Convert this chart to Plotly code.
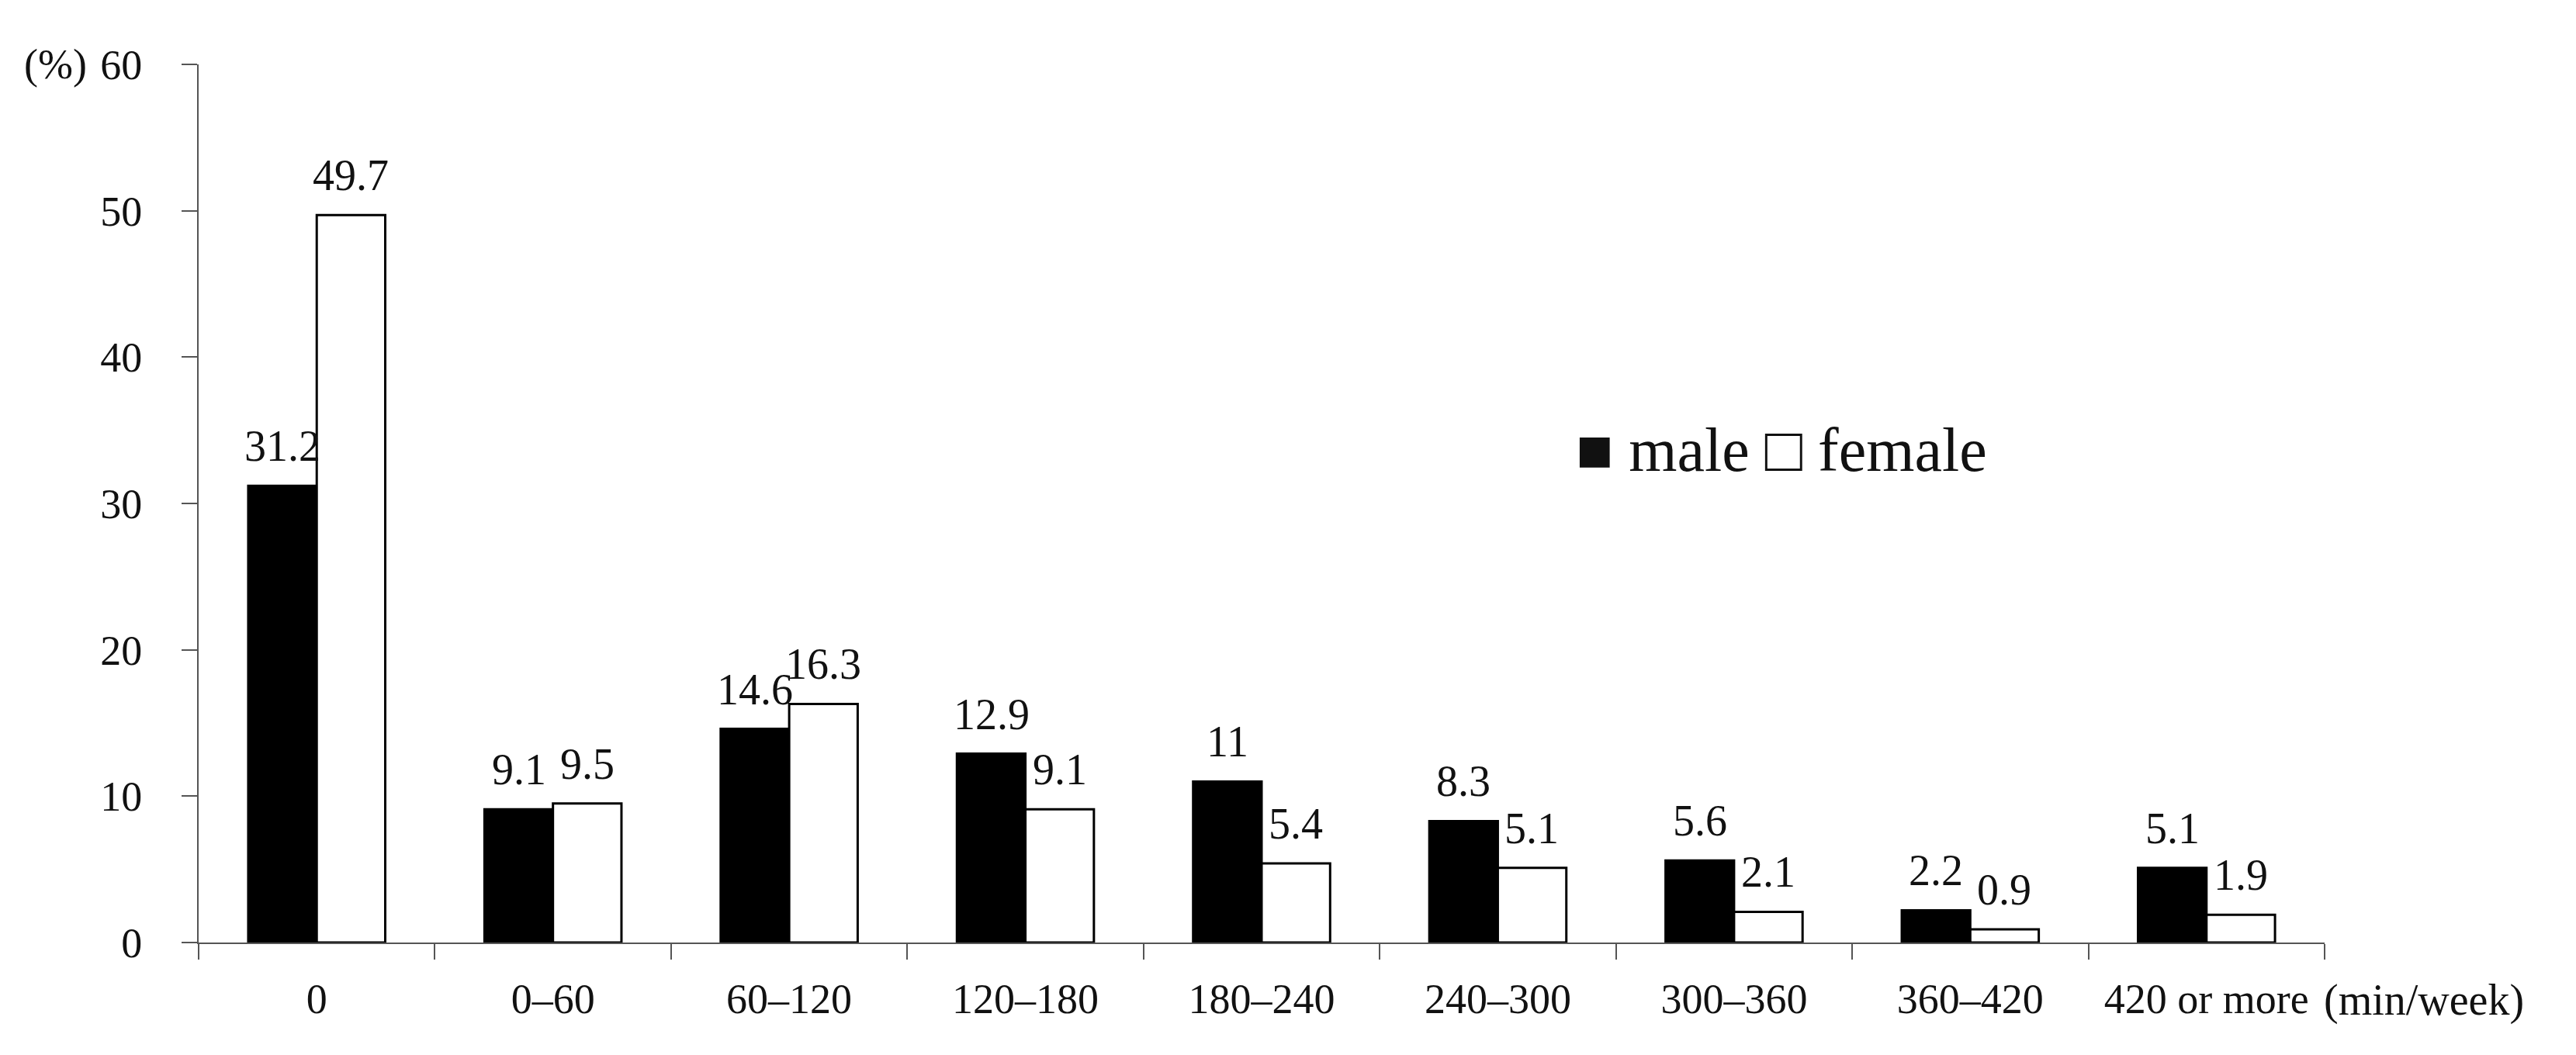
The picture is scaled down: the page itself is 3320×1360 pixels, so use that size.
import plotly.graph_objects as go

# weekly exercise time categories (min/week)
categories = ["0", "0\u201360", "60\u2013120", "120\u2013180", "180\u2013240",
              "240\u2013300", "300\u2013360", "360\u2013420", "420 or more"]
male = [31.2, 9.1, 14.6, 12.9, 11, 8.3, 5.6, 2.2, 5.1]
female = [49.7, 9.5, 16.3, 9.1, 5.4, 5.1, 2.1, 0.9, 1.9]
y_ticks = [0, 10, 20, 30, 40, 50, 60]

FONT = "Liberation Serif"
INK = "#111111"
AXIS = "#555555"

fig = go.Figure()
fig.add_trace(go.Bar(x=categories, y=male, name="male",
                     marker=dict(color="black", line=dict(color="black", width=3))))
fig.add_trace(go.Bar(x=categories, y=female, name="female",
                     marker=dict(color="white", line=dict(color="black", width=3))))

# value labels above each bar
half_bar = 44
for vals, shift in ((male, -half_bar), (female, half_bar)):
    for c, v in zip(categories, vals):
        fig.add_annotation(x=c, y=v, text=str(v), showarrow=False,
                           xshift=shift, yshift=18, yanchor="bottom",
                           font=dict(family=FONT, size=56, color=INK))

fig.add_annotation(xref="paper", yref="y", x=-0.052, y=60, text="(%)",
                   showarrow=False, xanchor="right", yanchor="middle",
                   font=dict(family=FONT, size=54, color=INK))
fig.add_annotation(xref="paper", yref="paper", x=0.999, y=-0.066, text="(min/week)",
                   showarrow=False, xanchor="left", yanchor="middle",
                   font=dict(family=FONT, size=56, color=INK))

# legend drawn as text with square glyphs
fig.add_annotation(xref="paper", yref="paper", x=0.7445, y=0.561,
                   text="\u25a0 male \u25a1 female", showarrow=False,
                   xanchor="center", yanchor="middle",
                   font=dict(family=FONT, size=80, color=INK))

fig.update_xaxes(showline=True, linecolor=AXIS, linewidth=2,
                 ticks="outside", tickson="boundaries", ticklen=20,
                 tickwidth=2, tickcolor=AXIS, ticklabelstandoff=24,
                 showgrid=False, zeroline=False,
                 tickfont=dict(family=FONT, size=54, color=INK))
fig.update_yaxes(range=[0, 60], tickvals=y_ticks, showline=True,
                 linecolor=AXIS, linewidth=2, ticks="outside", ticklen=20,
                 tickwidth=2, tickcolor=AXIS, ticklabelstandoff=40,
                 showgrid=False, zeroline=False,
                 tickfont=dict(family=FONT, size=54, color=INK))

fig.update_layout(width=3320, height=1360, barmode="group", bargap=0.42,
                  bargroupgap=0, showlegend=False,
                  paper_bgcolor="white", plot_bgcolor="white",
                  margin=dict(l=248, r=332, t=75, b=153))

fig.write_html("out.html")
